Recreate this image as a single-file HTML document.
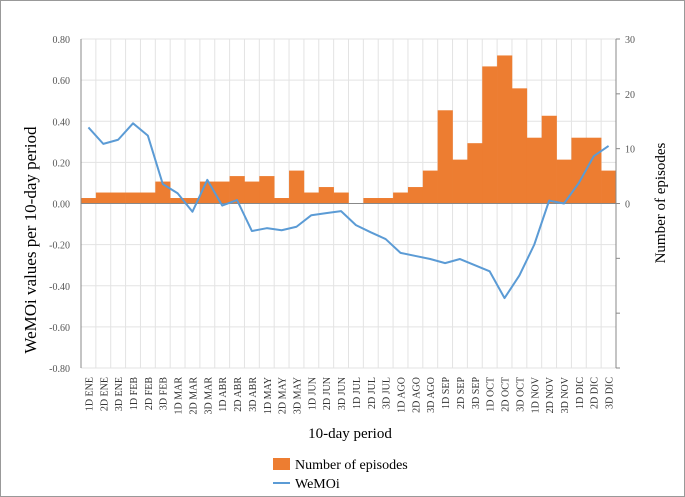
<!DOCTYPE html>
<html><head><meta charset="utf-8"><style>
body{margin:0;background:#fff}
svg{display:block;font-family:"Liberation Serif",serif}
</style></head><body>
<svg width="685" height="497">
<rect x="0.5" y="0.5" width="684" height="496" fill="#fff" stroke="#999"/>
<g id="grid"></g>
<g id="bars"></g>
<g id="axes"></g>
<g id="line"></g>
<text x="0" y="0" transform="translate(36,240) rotate(-90)" text-anchor="middle" font-size="17">WeMOi values per 10-day period</text>
<text x="0" y="0" transform="translate(665,203) rotate(-90)" text-anchor="middle" font-size="15">Number of episodes</text>
<text x="350" y="438" text-anchor="middle" font-size="15">10-day period</text>
<rect x="273" y="458" width="17" height="12" fill="#ED7D31"/>
<text x="295" y="469" font-size="14">Number of episodes</text>
<line x1="273" y1="483" x2="290" y2="483" stroke="#5B9BD5" stroke-width="2"/>
<text x="295" y="488" font-size="14">WeMOi</text>
</svg>
<script>
const categories=["1D ENE","2D ENE","3D ENE","1D FEB","2D FEB","3D FEB","1D MAR","2D MAR","3D MAR","1D ABR","2D ABR","3D ABR","1D MAY","2D MAY","3D MAY","1D JUN","2D JUN","3D JUN","1D JUL","2D JUL","3D JUL","1D AGO","2D AGO","3D AGO","1D SEP","2D SEP","3D SEP","1D OCT","2D OCT","3D OCT","1D NOV","2D NOV","3D NOV","1D DIC","2D DIC","3D DIC"];
const episodes=[1,2,2,2,2,4,1,1,4,4,5,4,5,1,6,2,3,2,0,1,1,2,3,6,17,8,11,25,27,21,12,16,8,12,12,6];
const wemoi=[0.37,0.29,0.31,0.39,0.33,0.095,0.05,-0.04,0.115,-0.01,0.017,-0.134,-0.12,-0.13,-0.113,-0.057,-0.047,-0.037,-0.105,-0.14,-0.173,-0.24,-0.255,-0.27,-0.29,-0.27,-0.30,-0.33,-0.46,-0.35,-0.20,0.014,0,0.10,0.23,0.28];
const leftTicks=[0.8,0.6,0.4,0.2,0,-0.2,-0.4,-0.6,-0.8];
const rightTicks=[30,20,10,0];
const NS="http://www.w3.org/2000/svg";
const L=81,R=616,T=39,B=368;
const bw=(R-L)/categories.length;
const yL=v=>T+(0.8-v)/1.6*(B-T);
const yR=v=>yL(v/30*0.8);
const xC=i=>L+bw*(i+0.5);
function mk(tag,attrs,parent){const e=document.createElementNS(NS,tag);for(const k in attrs)e.setAttribute(k,attrs[k]);parent.appendChild(e);return e;}
const grid=document.getElementById('grid'),bars=document.getElementById('bars'),axes=document.getElementById('axes'),line=document.getElementById('line');
leftTicks.forEach(v=>{
  const g=mk('line',{x1:L,x2:R,y1:yL(v),y2:yL(v),stroke:'#e3e3e3','stroke-width':1},grid);
  
  
  const t=mk('text',{x:L-11,y:yL(v)+4,'text-anchor':'end','font-size':10,fill:'#555'},axes);
  t.textContent=v.toFixed(2);
  
  
});
for(let i=0;i<=categories.length;i++){
  const g=mk('line',{x1:L+bw*i,x2:L+bw*i,y1:T,y2:B,stroke:'#e3e3e3','stroke-width':1},grid);
  
  
}
episodes.forEach((v,i)=>{
  const y=yR(v),y0=yR(0);
  const r=mk('rect',{x:L+bw*i,y:Math.min(y,y0),width:bw+0.3,height:Math.abs(y0-y),fill:'#ED7D31'},bars);
  
  
});
const ax=mk('line',{x1:L,x2:L,y1:T,y2:B,stroke:'#888'},axes);


const ax2=mk('line',{x1:R,x2:R,y1:T,y2:B,stroke:'#888'},axes);


const zx=mk('line',{x1:L,x2:R,y1:yL(0),y2:yL(0),stroke:'#888'},axes);


[30,20,10,0,-10,-20,-30].forEach(v=>{
  const tk=mk('line',{x1:R,x2:R+4,y1:yR(v),y2:yR(v),stroke:'#888'},axes);
  
  
});
rightTicks.forEach(v=>{
  const t=mk('text',{x:R+9,y:yR(v)+4,'font-size':10,fill:'#555'},axes);
  t.textContent=v;
  
  
});
categories.forEach((c,i)=>{
  const t=mk('text',{transform:`translate(${xC(i)+4},${B+9}) rotate(-90)`,'text-anchor':'end','font-size':10,fill:'#333'},axes);
  t.textContent=c;
  
  
});
const p=mk('polyline',{points:wemoi.map((v,i)=>xC(i)+','+yL(v)).join(' '),fill:'none',stroke:'#5B9BD5','stroke-width':2,'stroke-linejoin':'round'},line);


</script>
</body></html>
